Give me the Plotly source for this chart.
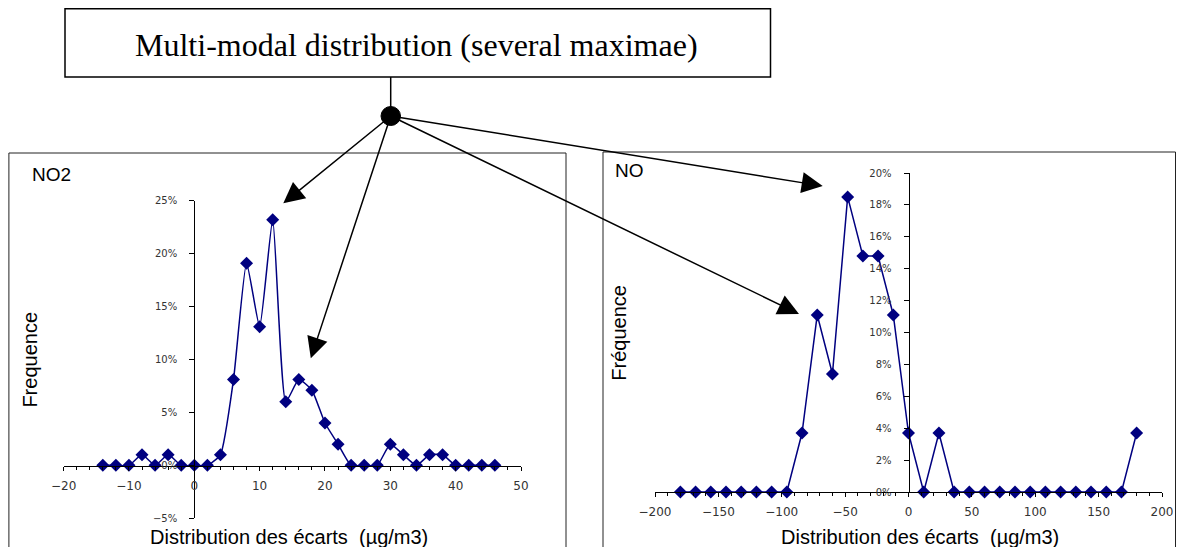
import plotly.graph_objects as go

# ---------------- data ----------------
no2_x = [-14, -12, -10, -8, -6, -4, -2, 0, 2, 4, 6, 8, 10, 12, 14, 16, 18, 20, 22, 24,
         26, 28, 30, 32, 34, 36, 38, 40, 42, 44, 46]
no2_y = [0, 0, 0, 1.0, 0, 1.0, 0, 0, 0, 1.0, 8.1, 19.1, 13.1, 23.2, 6.0, 8.1, 7.1, 4.0, 2.0, 0,
         0, 0, 2.0, 1.0, 0, 1.0, 1.0, 0, 0, 0, 0]

no_x = [-180, -168, -156, -144, -132, -120, -108, -96, -84, -72, -60, -48, -36, -24, -12, 0,
        12, 24, 36, 48, 60, 72, 84, 96, 108, 120, 132, 144, 156, 168, 180]
no_y = [0, 0, 0, 0, 0, 0, 0, 0, 3.7, 11.1, 7.4, 18.5, 14.8, 14.8, 11.1, 3.7,
        0, 3.7, 0, 0, 0, 0, 0, 0, 0, 0, 0, 0, 0, 0, 3.7]

title_text = "Multi-modal distribution (several maximae)"
left_label = "NO2"
right_label = "NO"
left_ytitle = "Frequence"
right_ytitle = "Fréquence"
xtitle = "Distribution des écarts  (µg/m3)"

# ---------------- geometry helpers ----------------
# the page body adds an 8px margin on every side; keep the figure inside the window
OFF = 8
W, H = 1184 - 2 * OFF, 555 - 2 * OFF
def px(x):
    return (x - OFF) / W
def py(y):
    return 1 - (y - OFF) / H

NAVY = "#000080"
TICKC = "#333333"

fig = go.Figure()
fig.add_trace(go.Scatter(
    x=no2_x, y=no2_y, mode="lines+markers", xaxis="x", yaxis="y",
    line=dict(color=NAVY, width=1.5, shape="spline", smoothing=0.5),
    marker=dict(symbol="diamond", size=10, color=NAVY),
    cliponaxis=False, showlegend=False,
))
fig.add_trace(go.Scatter(
    x=no_x, y=no_y, mode="lines+markers", xaxis="x2", yaxis="y2",
    line=dict(color=NAVY, width=1.5),
    marker=dict(symbol="diamond", size=10, color=NAVY),
    cliponaxis=False, showlegend=False,
))

xfont = dict(family="DejaVu Sans", size=12, color=TICKC)
yfont = dict(family="DejaVu Sans", size=10, color=TICKC)

common_x = dict(showgrid=False, zeroline=False, showline=True, linecolor="black",
                linewidth=1, ticks="outside", ticklen=4, tickcolor="black",
                tickfont=xfont, ticklabelstandoff=5, fixedrange=True, automargin=False)
common_y = dict(showgrid=False, zeroline=False, showline=True, linecolor="black",
                linewidth=1, ticks="outside", ticklen=5, tickcolor="black",
                tickfont=yfont, ticksuffix="%", ticklabelstandoff=10, fixedrange=True,
                automargin=False)

fig.update_layout(
    width=W, height=H,
    margin=dict(l=0, r=0, t=0, b=0, pad=0, autoexpand=False),
    paper_bgcolor="white", plot_bgcolor="white",
    xaxis=dict(domain=[px(63.6), px(521)], range=[-20, 50], dtick=10, tick0=0,
               anchor="free", position=py(466),
               minor=dict(ticks="outside", dtick=2, ticklen=3, tickcolor="black"),
               **common_x),
    yaxis=dict(domain=[py(518.3), py(200.7)], range=[-5, 25], dtick=5, tick0=0,
               anchor="free", position=px(194.2), **common_y),
    xaxis2=dict(domain=[px(655), px(1162)], range=[-200, 200], dtick=50, tick0=0,
                anchor="y2",
                minor=dict(ticks="outside", dtick=10, ticklen=3, tickcolor="black"),
                **common_x),
    yaxis2=dict(domain=[py(492), py(173)], range=[0, 20], dtick=2, tick0=0,
                anchor="free", position=px(908.5), **common_y),
)

shapes = [
    # chart frames
    dict(type="rect", xref="paper", yref="paper", x0=px(8.9), x1=px(566), y0=py(570), y1=py(153),
         line=dict(color="#222222", width=1), layer="below"),
    dict(type="rect", xref="paper", yref="paper", x0=px(603), x1=px(1175.5), y0=py(570), y1=py(152),
         line=dict(color="#222222", width=1), layer="below"),
    # title box
    dict(type="rect", xref="paper", yref="paper", x0=px(65), x1=px(770.5), y0=py(77), y1=py(8.8),
         line=dict(color="black", width=1.5), fillcolor="white"),
    # connector line
    dict(type="line", xref="paper", yref="paper", x0=px(390.7), x1=px(390.7), y0=py(77), y1=py(116),
         line=dict(color="black", width=1.5)),
    # dot
    dict(type="circle", xref="paper", yref="paper", x0=px(381), x1=px(400.5), y0=py(125.5), y1=py(106.5),
         line=dict(color="black", width=1), fillcolor="black"),
]
fig.update_layout(shapes=shapes)

annotations = [
    dict(text=title_text, x=px(416.5), y=py(45), xref="paper", yref="paper",
         showarrow=False, font=dict(family="Liberation Serif", size=32, color="black"),
         xanchor="center", yanchor="middle"),
    dict(text=left_label, x=px(29.6), y=py(174), xref="paper", yref="paper",
         showarrow=False, font=dict(family="Liberation Sans", size=19, color="black"),
         xanchor="left", yanchor="middle"),
    dict(text=right_label, x=px(613), y=py(170), xref="paper", yref="paper",
         showarrow=False, font=dict(family="Liberation Sans", size=19, color="black"),
         xanchor="left", yanchor="middle"),
    dict(text=left_ytitle, x=px(29.6), y=py(360), xref="paper", yref="paper", textangle=-90,
         showarrow=False, font=dict(family="Liberation Sans", size=20, color="black"),
         xanchor="center", yanchor="middle"),
    dict(text=right_ytitle, x=px(618.7), y=py(333), xref="paper", yref="paper", textangle=-90,
         showarrow=False, font=dict(family="Liberation Sans", size=20, color="black"),
         xanchor="center", yanchor="middle"),
    dict(text=xtitle, x=px(289), y=py(537), xref="paper", yref="paper",
         showarrow=False, font=dict(family="Liberation Sans", size=20, color="black"),
         xanchor="center", yanchor="middle"),
    dict(text=xtitle, x=px(920), y=py(537), xref="paper", yref="paper",
         showarrow=False, font=dict(family="Liberation Sans", size=20, color="black"),
         xanchor="center", yanchor="middle"),
]

tail = (390.7, 116)
tips = [(283.3, 203.3), (310.8, 358.3), (822.7, 186), (799, 314)]
for tx, ty in tips:
    annotations.append(dict(
        text="", x=px(tx), y=py(ty), xref="paper", yref="paper",
        showarrow=True, ax=tail[0] - tx, ay=tail[1] - ty, axref="pixel", ayref="pixel",
        arrowhead=2, arrowsize=2.8, arrowwidth=1.5, arrowcolor="black",
    ))
fig.update_layout(annotations=annotations)

fig.write_html("out.html")
